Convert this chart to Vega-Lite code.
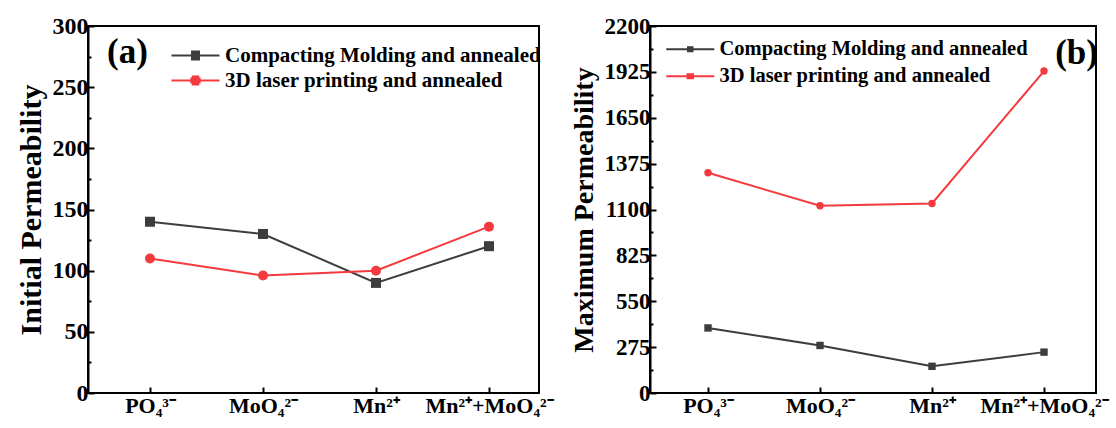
{
  "$schema": "https://vega.github.io/schema/vega-lite/v6.json",
  "background": "#ffffff",
  "padding": {"left": 15, "top": 13, "right": 0, "bottom": 0},
  "datasets": {
    "a": [
      {"material": "PO₄³⁻", "series": "Compacting Molding and annealed", "value": 140},
      {"material": "MoO₄²⁻", "series": "Compacting Molding and annealed", "value": 130},
      {"material": "Mn²⁺", "series": "Compacting Molding and annealed", "value": 90},
      {"material": "Mn²⁺+MoO₄²⁻", "series": "Compacting Molding and annealed", "value": 120},
      {"material": "PO₄³⁻", "series": "3D laser printing and annealed", "value": 110},
      {"material": "MoO₄²⁻", "series": "3D laser printing and annealed", "value": 96},
      {"material": "Mn²⁺", "series": "3D laser printing and annealed", "value": 100},
      {"material": "Mn²⁺+MoO₄²⁻", "series": "3D laser printing and annealed", "value": 136}
    ],
    "b": [
      {"material": "PO₄³⁻", "series": "Compacting Molding and annealed", "value": 390},
      {"material": "MoO₄²⁻", "series": "Compacting Molding and annealed", "value": 285},
      {"material": "Mn²⁺", "series": "Compacting Molding and annealed", "value": 160},
      {"material": "Mn²⁺+MoO₄²⁻", "series": "Compacting Molding and annealed", "value": 245},
      {"material": "PO₄³⁻", "series": "3D laser printing and annealed", "value": 1320},
      {"material": "MoO₄²⁻", "series": "3D laser printing and annealed", "value": 1122},
      {"material": "Mn²⁺", "series": "3D laser printing and annealed", "value": 1136},
      {"material": "Mn²⁺+MoO₄²⁻", "series": "3D laser printing and annealed", "value": 1930}
    ]
  },
  "config": {
    "font": "Liberation Serif",
    "view": {"stroke": "#000000", "strokeWidth": 2},
    "axis": {
      "grid": false,
      "domainColor": "#000000",
      "domainWidth": 2,
      "tickColor": "#000000",
      "tickWidth": 2,
      "labelColor": "#000000",
      "labelFont": "Liberation Serif",
      "labelFontWeight": "bold",
      "titleFont": "Liberation Serif",
      "titleFontWeight": "bold",
      "titleColor": "#000000"
    },
    "legend": {
      "labelFont": "Liberation Serif",
      "labelFontWeight": "bold",
      "labelColor": "#000000",
      "labelLimit": 0
    }
  },
  "bounds": "flush",
  "spacing": 111,
  "resolve": {"scale": {"color": "independent", "shape": "independent"}, "legend": {"color": "independent"}},
  "hconcat": [
    {
      "width": 451,
      "height": 367,
      "data": {"name": "a"},
      "title": {"text": "(a)", "anchor": "start", "frame": "group", "font": "Liberation Serif", "fontWeight": "bold", "fontSize": 35, "color": "#000000", "offset": 0, "dx": 19, "dy": 56},
      "encoding": {
        "x": {"field": "material", "type": "nominal", "scale": {"type": "point", "padding": 0, "domain": ["PO₄³⁻", "MoO₄²⁻", "Mn²⁺", "Mn²⁺+MoO₄²⁻"], "range": [62, 401]},
          "axis": {"title": null, "labelAngle": 0, "labelFontSize": 22, "tickSize": -6, "labelPadding": 8, "domain": false}},
        "y": {"field": "value", "type": "quantitative", "scale": {"domain": [0, 300], "nice": false},
          "axis": {"title": "Initial Permeability", "titleFontSize": 30, "titlePadding": 6, "labelFontSize": 24, "labelPadding": 6,
            "values": [0, 25, 50, 75, 100, 125, 150, 175, 200, 225, 250, 275, 300],
            "labelExpr": "datum.value % 50 === 0 ? datum.label : ''",
            "tickSize": {"condition": {"test": "datum.value % 50 === 0", "value": -6}, "value": -3}}}
      },
      "layer": [
        {"mark": {"type": "point", "filled": false, "opacity": 0},
          "encoding": {
            "shape": {"field": "series", "type": "nominal", "legend": null,
              "scale": {"domain": ["Compacting Molding and annealed", "3D laser printing and annealed"],
                "range": ["M-4.8,0H4.8M-0.9,-0.8H0.9M-0.9,-0.4H0.9M-0.9,0.4H0.9M-0.9,0.8H0.9",
                          "M-4.8,0H4.8M-1.02,-0.4H1.02M-1.02,0.4H1.02M-0.75,-0.8H0.75M-0.75,0.8H0.75"]}},
            "size": {"value": 100},
            "color": {"field": "series", "type": "nominal", "scale": {"domain": ["Compacting Molding and annealed", "3D laser printing and annealed"], "range": ["#3d3d3d", "#f43a3f"]},
              "legend": {"title": null, "orient": "none", "legendX": 97, "legendY": 19, "padding": 0, "symbolSize": 100, "symbolOpacity": 1, "symbolStrokeWidth": 2, "labelFontSize": 21, "labelOffset": 19, "rowPadding": 3}}
          }},
        {"mark": {"type": "line", "strokeWidth": 2},
          "encoding": {
            "color": {"field": "series", "type": "nominal", "scale": {"domain": ["Compacting Molding and annealed", "3D laser printing and annealed"], "range": ["#3d3d3d", "#f43a3f"]}}
          }},
        {"transform": [{"filter": "datum.series === 'Compacting Molding and annealed'"}],
          "mark": {"type": "point", "filled": true, "opacity": 1, "shape": "square", "size": 100},
          "encoding": {
            "color": {"field": "series", "type": "nominal", "scale": {"domain": ["Compacting Molding and annealed", "3D laser printing and annealed"], "range": ["#3d3d3d", "#f43a3f"]}}
          }},
        {"transform": [{"filter": "datum.series === '3D laser printing and annealed'"}],
          "mark": {"type": "point", "filled": true, "opacity": 1, "shape": "circle", "size": 100},
          "encoding": {
            "color": {"field": "series", "type": "nominal", "scale": {"domain": ["Compacting Molding and annealed", "3D laser printing and annealed"], "range": ["#3d3d3d", "#f43a3f"]}}
          }}
      ]
    },
    {
      "width": 446,
      "height": 367,
      "data": {"name": "b"},
      "title": {"text": "(b)", "anchor": "end", "frame": "group", "font": "Liberation Serif", "fontWeight": "bold", "fontSize": 35, "color": "#000000", "offset": 0, "dx": 2, "dy": 56},
      "encoding": {
        "x": {"field": "material", "type": "nominal", "scale": {"type": "point", "padding": 0, "domain": ["PO₄³⁻", "MoO₄²⁻", "Mn²⁺", "Mn²⁺+MoO₄²⁻"], "range": [58, 394]},
          "axis": {"title": null, "labelAngle": 0, "labelFontSize": 22, "tickSize": -6, "labelPadding": 8, "domain": false}},
        "y": {"field": "value", "type": "quantitative", "scale": {"domain": [0, 2200], "nice": false},
          "axis": {"title": "Maximum Permeability", "titleFontSize": 28, "titlePadding": 6, "labelFontSize": 23, "labelPadding": 6,
            "values": [0, 137.5, 275, 412.5, 550, 687.5, 825, 962.5, 1100, 1237.5, 1375, 1512.5, 1650, 1787.5, 1925, 2062.5, 2200],
            "labelExpr": "datum.value % 275 === 0 ? format(datum.value, 'd') : ''",
            "tickSize": {"condition": {"test": "datum.value % 275 === 0", "value": -6}, "value": -3}}}
      },
      "layer": [
        {"mark": {"type": "point", "filled": false, "opacity": 0},
          "encoding": {
            "shape": {"field": "series", "type": "nominal", "legend": null,
              "scale": {"domain": ["Compacting Molding and annealed", "3D laser printing and annealed"],
                "range": ["M-4.8,0H4.8M-0.65,-0.4H0.65M-0.65,0.4H0.65",
                          "M-4.8,0H4.8M-0.75,-0.4H0.75M-0.75,0.4H0.75"]}},
            "size": {"value": 100},
            "color": {"field": "series", "type": "nominal", "scale": {"domain": ["Compacting Molding and annealed", "3D laser printing and annealed"], "range": ["#3d3d3d", "#f43a3f"]},
              "legend": {"title": null, "orient": "none", "legendX": 30, "legendY": 13, "padding": 0, "symbolSize": 100, "symbolOpacity": 1, "symbolStrokeWidth": 2, "labelFontSize": 20.5, "labelOffset": 19, "rowPadding": 6}}
          }},
        {"mark": {"type": "line", "strokeWidth": 2},
          "encoding": {
            "color": {"field": "series", "type": "nominal", "scale": {"domain": ["Compacting Molding and annealed", "3D laser printing and annealed"], "range": ["#3d3d3d", "#f43a3f"]}}
          }},
        {"transform": [{"filter": "datum.series === 'Compacting Molding and annealed'"}],
          "mark": {"type": "point", "filled": true, "opacity": 1, "shape": "square", "size": 55},
          "encoding": {
            "color": {"field": "series", "type": "nominal", "scale": {"domain": ["Compacting Molding and annealed", "3D laser printing and annealed"], "range": ["#3d3d3d", "#f43a3f"]}}
          }},
        {"transform": [{"filter": "datum.series === '3D laser printing and annealed'"}],
          "mark": {"type": "point", "filled": true, "opacity": 1, "shape": "circle", "size": 55},
          "encoding": {
            "color": {"field": "series", "type": "nominal", "scale": {"domain": ["Compacting Molding and annealed", "3D laser printing and annealed"], "range": ["#3d3d3d", "#f43a3f"]}}
          }}
      ]
    }
  ]
}
